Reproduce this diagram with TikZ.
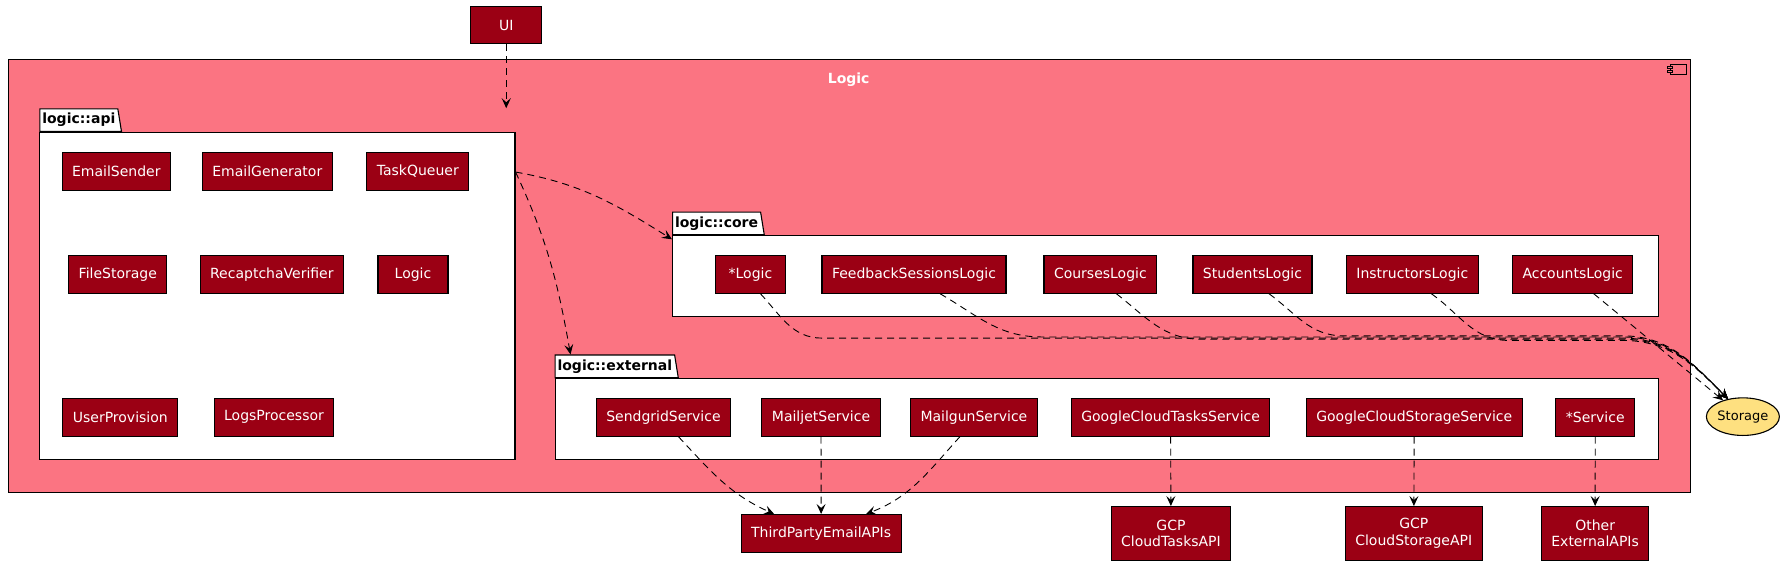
\documentclass[tikz,border=0pt]{standalone}
\usepackage{fontspec}
\setmainfont{DejaVu Sans}
\usepackage{xcolor}
\usepackage{tikz}
\usetikzlibrary{shapes,arrows.meta,positioning,calc}

\definecolor{boxred}{RGB}{155,0,20}
\definecolor{comppink}{RGB}{251,116,130}
\definecolor{storeyellow}{RGB}{254,224,128}

\begin{document}
\begin{tikzpicture}[x=1.1384pt, y=1.1384pt,
    cls/.style={draw=black, line width=1.1pt, fill=boxred, text=white, font=\fontsize{14}{16.5}\selectfont, minimum width=70pt, minimum height=37.6pt, inner xsep=10pt, align=center},
    cls2/.style={cls, minimum height=53.5pt},
    pkgbody/.style={draw=black, line width=1.1pt, fill=white, anchor=north west, inner sep=0pt},
    pkgtab/.style={trapezium, trapezium stretches=true, trapezium left angle=90, trapezium right angle=75, draw=black, line width=1.1pt, fill=white, font=\bfseries\fontsize{14}{16}\selectfont, inner xsep=2.5pt, inner ysep=0pt, minimum height=22.7pt, anchor=bottom left corner},
    dep/.style={dash pattern=on 7pt off 5pt, line width=0.9pt, -{Stealth[length=10pt,width=9pt,inset=4pt]}}
]
    \path[use as bounding box, fill=white] (0,0) rectangle (1568,-495);

    % UI on top
    \node[cls, minimum width=71pt] (ui) at (444.7,-22) {UI};

    % Logic component
    \node[draw=black, line width=1.2pt, fill=comppink, anchor=north west, minimum width=1681.9pt, minimum height=432.6pt, inner sep=0pt] (logic) at (7,-52) {};
    \node[text=white, font=\bfseries\fontsize{14}{16}\selectfont] (logictitle) at (745.5,-70) {Logic};
    \draw[fill=comppink, line width=0.9pt] (1467,-56.5) rectangle (1481,-65.5);
    \draw[fill=comppink, line width=0.9pt] (1464.5,-58) rectangle (1469.5,-60);
    \draw[fill=comppink, line width=0.9pt] (1464.5,-61.5) rectangle (1469.5,-63.5);

    % Packages
    \node[pkgbody, minimum width=475.2pt, minimum height=327pt] (api) at (34.5,-116) {};
    \node[pkgtab] (apitab) at (api.north west) {logic::api};
    \node[pkgbody, minimum width=986.1pt, minimum height=80.4pt] (core) at (590.3,-206.7) {};
    \node[pkgtab] (coretab) at (core.north west) {logic::core};
    \node[pkgbody, minimum width=1103.6pt, minimum height=80.7pt] (ext) at (487.1,-332.3) {};
    \node[pkgtab] (exttab) at (ext.north west) {logic::external};

    % logic::api
    \foreach \nm/\x/\y/\txt in {esend/102.2/150.5/EmailSender, egen/234.8/150.5/EmailGenerator, tqueuer/367/150.5/TaskQueuer, fstore/103.5/241/FileStorage, rverif/238.8/241/RecaptchaVerifier, lgc/362.8/241/Logic, uprov/105.7/366.6/UserProvision, lproc/240.7/366.6/LogsProcessor} {
        \node[cls] (\nm) at (\x,-\y) {\txt};
    }

    % logic::core
    \foreach \nm/\x/\txt in {clogic/659.2/*Logic, fslogic/802.9/FeedbackSessionsLogic, crlogic/966.6/CoursesLogic, stlogic/1100.2/StudentsLogic, inlogic/1240.6/InstructorsLogic, aclogic/1381.5/AccountsLogic} {
        \node[cls] (\nm) at (\x,-241) {\txt};
    }

    % logic::external
    \foreach \nm/\x/\txt in {sendgrid/582.8/SendgridService, mailjet/721.2/MailjetService, mailgun/855.5/MailgunService, gcts/1028.3/GoogleCloudTasksService, gcss/1242.3/GoogleCloudStorageService, sservice/1401.3/*Service} {
        \node[cls] (\nm) at (\x,-366.6) {\txt};
    }

    % Outside
    \node[draw=black, line width=1.1pt, fill=storeyellow, ellipse, minimum width=73pt, minimum height=37.6pt, inner sep=0pt, font=\fontsize{13}{15}\selectfont] (storage) at (1531,-366) {Storage};
    \node[cls] (tpe) at (721.3,-468.5) {ThirdPartyEmailAPIs};
    \foreach \nm/\x/\txt in {gcpta/1028.6/GCP\\CloudTasksAPI, gcpsa/1241.9/GCP\\CloudStorageAPI, other/1401.2/Other\\ExternalAPIs} {
        \node[cls2] (\nm) at (\x,-468.5) {\txt};
    }

    % Dependencies
    \draw[dep] (ui) -- (ui |- apitab.north);
    \draw[dep] ([yshift=-40pt]api.north east) to[out=-10, in=148] ([yshift=-4pt]core.north west);
    \draw[dep] ([yshift=-40pt]api.north east) to[out=-65, in=100] ([xshift=16pt]exttab.top left corner);

    \foreach \src/\dx/\ox/\cx/\cy in {clogic/10/-47/722/297, fslogic/26/-30/915/296, crlogic/16/-38/1055/298, stlogic/16.5/-36/1180/295, inlogic/19/-35/1325/299} {
        \draw[dep] ([xshift=\dx pt]\src.south) to[out=\ox, in=180] (\cx,-\cy) -- (1425,-\cy) to[out=0, in=135] (storage.130);
    }
    \draw[dep] ([xshift=21pt]aclogic.south) -- (storage);

    \draw[dep] ([xshift=15pt]sendgrid.south) to[out=-47, in=156] ([xshift=-47pt]tpe.north);
    \draw[dep] (mailjet) -- (tpe);
    \draw[dep] ([xshift=-14pt]mailgun.south) to[out=-132, in=21] ([xshift=45pt]tpe.north);
    \draw[dep] (gcts) -- (gcpta);
    \draw[dep] (gcss) -- (gcpsa);
    \draw[dep] (sservice) -- (other);
\end{tikzpicture}
\end{document}
